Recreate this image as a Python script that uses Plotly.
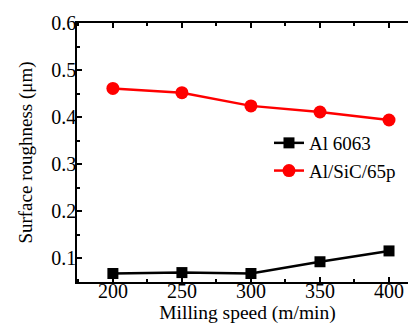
import plotly.graph_objects as go

speed = [200, 250, 300, 350, 400]
al6063 = [0.068, 0.070, 0.068, 0.093, 0.116]
alsic = [0.461, 0.452, 0.424, 0.411, 0.394]

font = "'Liberation Serif', 'Times New Roman', Times, serif"
fig = go.Figure()
fig.add_trace(go.Scatter(x=speed, y=al6063, name="Al 6063", mode="lines+markers",
                         line=dict(color="black", width=2.5),
                         marker=dict(symbol="square", size=11, color="black")))
fig.add_trace(go.Scatter(x=speed, y=alsic, name="Al/SiC/65p", mode="lines+markers",
                         line=dict(color="#ff0000", width=2.5),
                         marker=dict(symbol="circle", size=13, color="#ff0000")))

axis_common = dict(showline=True, linecolor="black", linewidth=1.5, mirror="ticks",
                   ticks="inside", ticklen=5, tickwidth=1.5, tickcolor="black",
                   showgrid=False, zeroline=False,
                   tickfont=dict(family=font, size=20, color="black"))
fig.update_layout(
    width=416, height=331,
    margin=dict(l=69, r=4, t=15, b=57),
    plot_bgcolor="white", paper_bgcolor="white",
    font=dict(family=font, color="black"),
    xaxis=dict(range=[174, 421], tickvals=[200, 250, 300, 350, 400], ticklabelstandoff=-10,
               minor=dict(ticks="inside", ticklen=3, tickwidth=1.5, tickcolor="black", dtick=25, tick0=0),
               title=dict(text="Milling speed (m/min)", font=dict(family=font, size=19.5, color="black"), standoff=2),
               **axis_common),
    yaxis=dict(range=[0.05, 0.6], tickvals=[0.1, 0.2, 0.3, 0.4, 0.5, 0.6], ticklabelstandoff=-5,
               minor=dict(ticks="inside", ticklen=3, tickwidth=1.5, tickcolor="black", dtick=0.05, tick0=0),
               title=dict(text="Surface roughness (μm)", font=dict(family=font, size=19, color="black"), standoff=14),
               **axis_common),
    showlegend=True,
    legend=dict(x=0.563, y=0.61, xanchor="left", yanchor="top", bgcolor="rgba(0,0,0,0)",
                font=dict(family=font, size=19, color="black"), itemwidth=30, tracegroupgap=0),
)
fig.write_html("out.html")
